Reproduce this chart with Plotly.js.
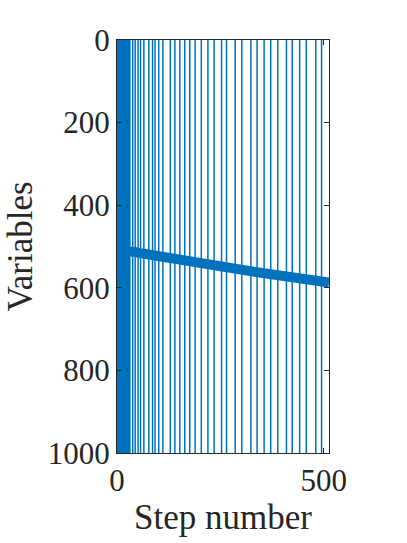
<!DOCTYPE html>
<html>
<head>
<meta charset="utf-8">
<script src="https://cdn.plot.ly/plotly-3.0.1.min.js"></script>
<style>
    html, body { margin: 0; padding: 0; background: #fff; }
    #chart { width: 407px; height: 543px; }
</style>
</head>
<body>
<div id="chart"></div>
<script>
// Шаги, на которых переменная охватывает весь диапазон (вертикальные линии)
const denseSteps = [0, 1, 2, 3, 4, 5, 6, 7, 8, 9, 10, 11, 12, 13, 14, 15,
    16, 17, 18, 19, 20, 21, 22, 23, 24, 25, 26, 27, 28, 29, 30, 31];
const sparseSteps = [38, 44, 51, 57, 65, 77, 86, 92, 101, 111, 129, 140, 152,
    164, 176, 189, 204, 220, 235, 253, 265, 286, 302, 324, 339, 356, 372, 389,
    410, 424, 442, 458, 481, 495];
const varMin = 0;
const varMax = 1000;

// Полоса активных переменных
const curveSteps = [31, 38, 56, 99, 140, 180, 220, 256, 300, 350, 400, 450, 490, 513];
const curveVars = [513, 512, 516, 524, 530, 537, 543, 549, 556, 564, 571, 578, 583, 587];

const xTicks = [0, 500];
const yTicks = [0, 200, 400, 600, 800, 1000];

const blue = '#0072BD';
const axisColor = '#262626';
const serif = '"Liberation Serif", "Times New Roman", serif';

function verticalLines(steps) {
    const x = [];
    const y = [];
    steps.forEach(s => {
        x.push(s, s, null);
        y.push(varMin, varMax, null);
    });
    return { x, y };
}

const allSteps = denseSteps.concat(sparseSteps);
const vl = verticalLines(allSteps);

const traceLines = {
    x: vl.x,
    y: vl.y,
    type: 'scatter',
    mode: 'lines',
    line: { color: blue, width: 1.5 },
    hoverinfo: 'skip',
    showlegend: false
};

const traceCurve = {
    x: curveSteps,
    y: curveVars,
    type: 'scatter',
    mode: 'lines',
    line: { color: blue, width: 10 },
    showlegend: false
};

const axisCommon = {
    showgrid: false,
    zeroline: false,
    showline: true,
    linecolor: axisColor,
    linewidth: 1,
    mirror: 'ticks',
    ticks: 'inside',
    ticklen: 5,
    tickcolor: axisColor,
    tickfont: { family: serif, size: 31, color: axisColor }
};

const layout = {
    width: 407,
    height: 543,
    margin: { l: 117, r: 78, t: 40, b: 90 },
    paper_bgcolor: '#fff',
    plot_bgcolor: '#fff',
    xaxis: Object.assign({}, axisCommon, {
        range: [0, 513],
        tickvals: xTicks,
        ticktext: xTicks.map(String),
        title: { text: 'Step number', font: { family: serif, size: 35, color: axisColor }, standoff: 4 }
    }),
    yaxis: Object.assign({}, axisCommon, {
        range: [1000, 0],
        tickvals: yTicks,
        ticktext: yTicks.map(String),
        title: { text: 'Variables', font: { family: serif, size: 35, color: axisColor }, standoff: 4 }
    })
};

Plotly.newPlot('chart', [traceLines, traceCurve], layout, { displayModeBar: false, staticPlot: true });
</script>
</body>
</html>
